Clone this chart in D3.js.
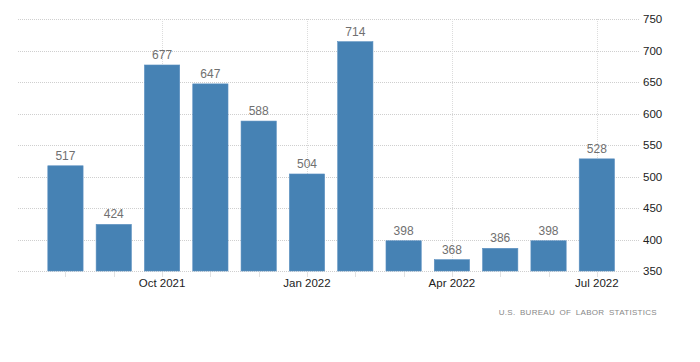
<!DOCTYPE html>
<html>
<head>
<meta charset="utf-8">
<script src="https://cdn.jsdelivr.net/npm/d3@7"></script>
<style>
  body { margin: 0; background: #fff; }
  svg text { font-family: "Liberation Sans", Arial, sans-serif; }
</style>
</head>
<body>
<div id="chart"></div>
<script>
var months = ["Aug 2021", "Sep 2021", "Oct 2021", "Nov 2021", "Dec 2021", "Jan 2022",
              "Feb 2022", "Mar 2022", "Apr 2022", "May 2022", "Jun 2022", "Jul 2022"];
var values = [517, 424, 677, 647, 588, 504, 714, 398, 368, 386, 398, 528];
var labelMonths = ["Oct 2021", "Jan 2022", "Apr 2022", "Jul 2022"];
var yTicks = [350, 400, 450, 500, 550, 600, 650, 700, 750];

var width = 700, height = 362;

var svg = d3.select("#chart")
  .append("svg")
  .attr("width", width)
  .attr("height", height);

var x = d3.scaleBand()
  .domain(months)
  .range([41.3, 621])
  .paddingInner(0.27)
  .paddingOuter(0.135);

var y = d3.scaleLinear()
  .domain([350, 750])
  .range([271, 19]);

// horizontal grid
svg.append("g")
  .selectAll("line")
  .data(yTicks)
  .enter()
  .append("line")
    .attr("x1", 18)
    .attr("x2", 640)
    .attr("y1", function(d) { return Math.round(y(d)) + 0.5; })
    .attr("y2", function(d) { return Math.round(y(d)) + 0.5; })
    .style("stroke", "#cfcfcf")
    .style("stroke-dasharray", "1,1");

// vertical grid at labelled months
svg.append("g")
  .selectAll("line")
  .data(labelMonths)
  .enter()
  .append("line")
    .attr("x1", function(d) { return Math.round(x(d) + x.bandwidth() / 2) + 0.5; })
    .attr("x2", function(d) { return Math.round(x(d) + x.bandwidth() / 2) + 0.5; })
    .attr("y1", 19)
    .attr("y2", 271)
    .style("stroke", "#dcdcdc")
    .style("stroke-dasharray", "1,1");

// small month ticks
svg.append("g")
  .selectAll("line")
  .data(months)
  .enter()
  .append("line")
    .attr("x1", function(d) { return Math.round(x(d) + x.bandwidth() / 2) + 0.5; })
    .attr("x2", function(d) { return Math.round(x(d) + x.bandwidth() / 2) + 0.5; })
    .attr("y1", 272)
    .attr("y2", 277)
    .style("stroke", "#e2e2e2");

// bars
svg.append("g")
  .selectAll("rect")
  .data(values)
  .enter()
  .append("rect")
    .attr("x", function(d, i) { return x(months[i]); })
    .attr("y", function(d) { return y(d); })
    .attr("width", x.bandwidth())
    .attr("height", function(d) { return y(350) - y(d); })
    .style("fill", "#4682b4")
    .style("stroke", "#5a8fc0")
    .style("stroke-width", 0.6);

// value labels
svg.append("g")
  .selectAll("text")
  .data(values)
  .enter()
  .append("text")
    .attr("x", function(d, i) { return x(months[i]) + x.bandwidth() / 2; })
    .attr("y", function(d) { return y(d) - 6; })
    .attr("text-anchor", "middle")
    .style("font-size", "12px")
    .style("fill", "#707070")
    .text(function(d) { return d; });

// y axis labels (right)
svg.append("g")
  .selectAll("text")
  .data(yTicks)
  .enter()
  .append("text")
    .attr("x", 643)
    .attr("y", function(d) { return y(d) + 4; })
    .style("font-size", "11.5px")
    .style("fill", "#222")
    .text(function(d) { return d; });

// x axis labels
svg.append("g")
  .selectAll("text")
  .data(labelMonths)
  .enter()
  .append("text")
    .attr("x", function(d) { return x(d) + x.bandwidth() / 2; })
    .attr("y", 287)
    .attr("text-anchor", "middle")
    .style("font-size", "11.5px")
    .style("fill", "#222")
    .text(function(d) { return d; });

// source
svg.append("text")
  .attr("x", 657)
  .attr("y", 315)
  .attr("text-anchor", "end")
  .style("font-size", "8px")
  .style("letter-spacing", "0.3px")
  .style("word-spacing", "2px")
  .style("fill", "#888")
  .text("U.S. BUREAU OF LABOR STATISTICS");
</script>
</body>
</html>
